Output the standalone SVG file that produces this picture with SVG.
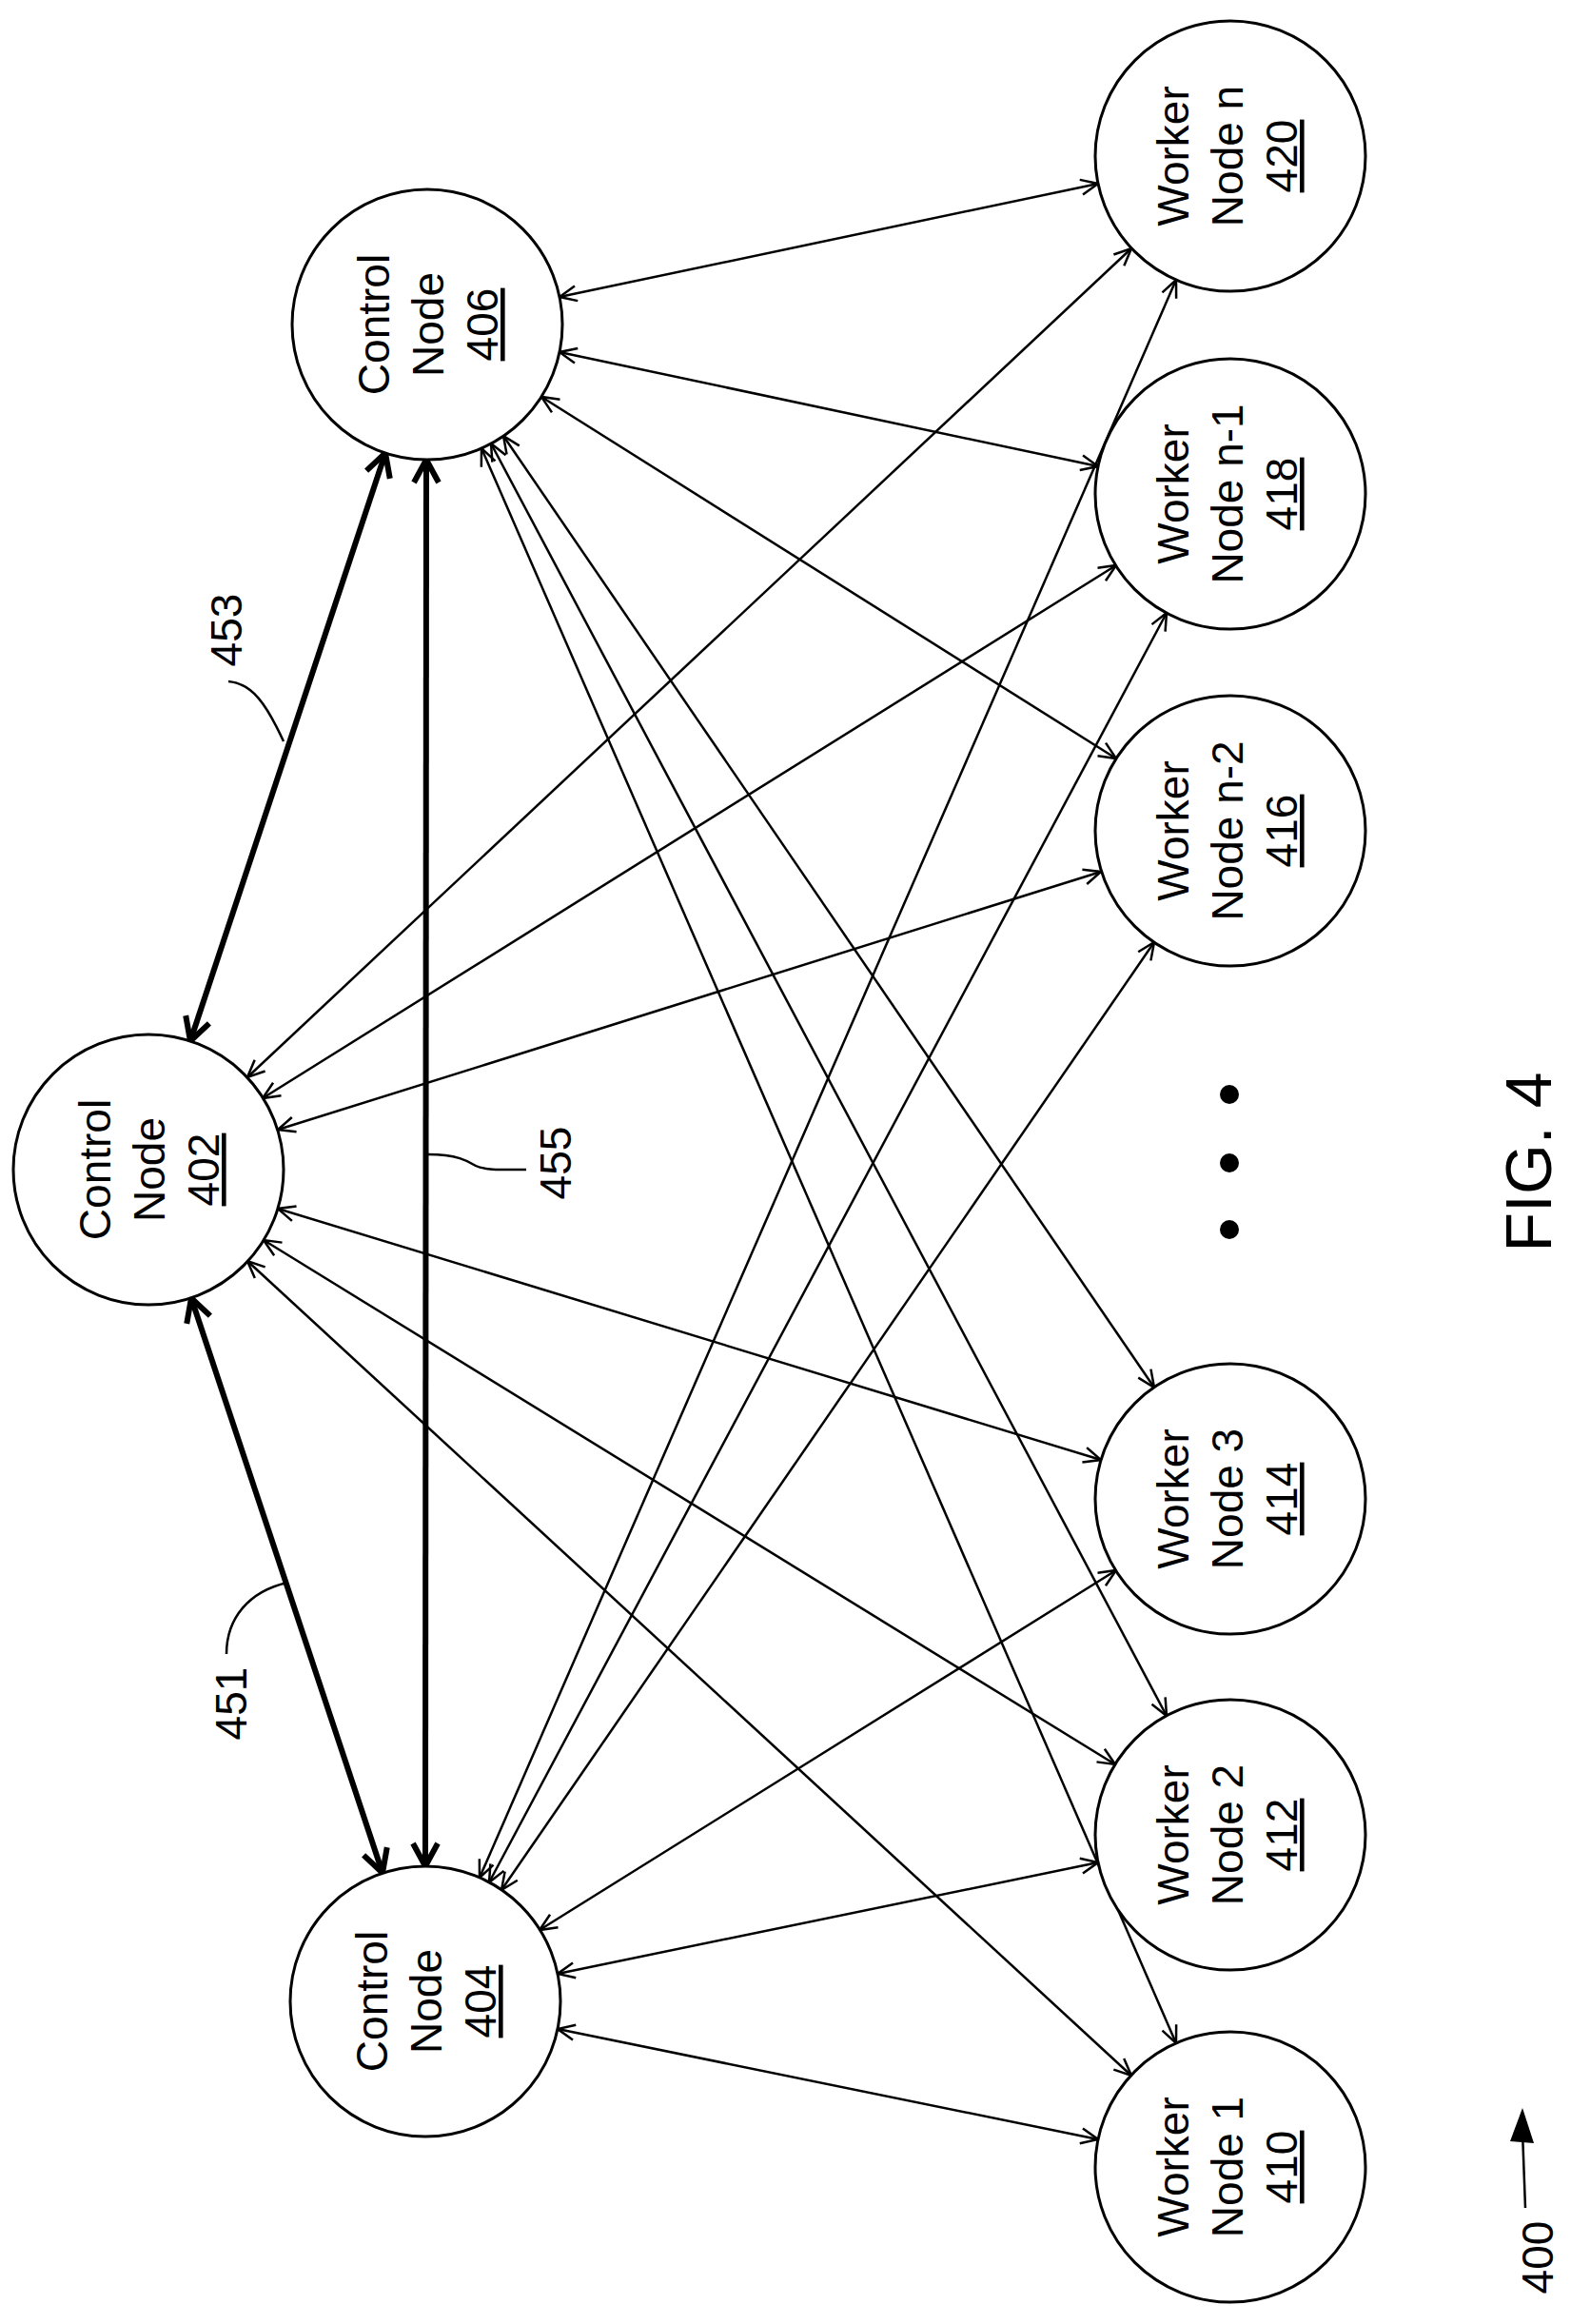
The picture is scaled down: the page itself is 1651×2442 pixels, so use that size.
<svg xmlns="http://www.w3.org/2000/svg" width="1651" height="2442" viewBox="0 0 1651 2442">
<style>
.n{fill:#fff;stroke:#000;stroke-width:3}
.t{font-family:"Liberation Sans",Arial,sans-serif;font-size:46px;text-anchor:middle;fill:#000}
.e{stroke:#000;stroke-width:2.5;fill:none;marker-start:url(#a);marker-end:url(#a)}
.b{stroke:#000;stroke-width:6;fill:none;marker-start:url(#b);marker-end:url(#b)}
.l{stroke:#000;stroke-width:2.5;fill:none}
</style>
<defs>
<marker id="a" markerUnits="userSpaceOnUse" orient="auto-start-reverse" refX="0" refY="0" markerWidth="40" markerHeight="40" overflow="visible"><path d="M-18,-8 L0,0 L-18,8" fill="none" stroke="#000" stroke-width="2.5"/></marker>
<marker id="b" markerUnits="userSpaceOnUse" orient="auto-start-reverse" refX="0" refY="0" markerWidth="40" markerHeight="40" overflow="visible"><path d="M-24,-13 L0,0 L-24,13" fill="none" stroke="#000" stroke-width="6"/></marker>
</defs>
<g id="connectors">
<line class="e" x1="588" y1="312" x2="1154" y2="193"/>
<line class="e" x1="588" y1="370" x2="1154" y2="490"/>
<line class="e" x1="569" y1="417" x2="1173" y2="797"/>
<line class="e" x1="529" y1="458" x2="1213" y2="1458"/>
<line class="e" x1="516" y1="466" x2="1226" y2="1803"/>
<line class="e" x1="506" y1="471" x2="1236" y2="2147"/>
<line class="e" x1="260" y1="1132" x2="1189" y2="261"/>
<line class="e" x1="276" y1="1154" x2="1173" y2="594"/>
<line class="e" x1="292" y1="1187" x2="1157" y2="916"/>
<line class="e" x1="292" y1="1270" x2="1157" y2="1534"/>
<line class="e" x1="277" y1="1303" x2="1172" y2="1854"/>
<line class="e" x1="260" y1="1325" x2="1189" y2="2181"/>
<line class="e" x1="504" y1="1973" x2="1236" y2="294"/>
<line class="e" x1="514" y1="1978" x2="1226" y2="644"/>
<line class="e" x1="527" y1="1986" x2="1213" y2="990"/>
<line class="e" x1="567" y1="2028" x2="1173" y2="1650"/>
<line class="e" x1="586" y1="2074" x2="1154" y2="1957"/>
<line class="e" x1="586" y1="2132" x2="1154" y2="2248"/>
<line class="b" x1="200" y1="1094" x2="405" y2="476"/>
<line class="b" x1="201" y1="1364" x2="402" y2="1968"/>
<line class="b" x1="448" y1="483" x2="447" y2="1961"/>
</g>
<g id="n406"><circle class="n" cx="449" cy="341" r="142"/><g transform="translate(449,341) rotate(-90)" class="t"><text x="0" y="-40">Control</text><text x="0" y="17">Node</text><text x="0" y="74" text-decoration="underline">406</text></g></g>
<g id="n402"><circle class="n" cx="156" cy="1229" r="142"/><g transform="translate(156,1229) rotate(-90)" class="t"><text x="0" y="-40">Control</text><text x="0" y="17">Node</text><text x="0" y="74" text-decoration="underline">402</text></g></g>
<g id="n404"><circle class="n" cx="447" cy="2103" r="142"/><g transform="translate(447,2103) rotate(-90)" class="t"><text x="0" y="-40">Control</text><text x="0" y="17">Node</text><text x="0" y="74" text-decoration="underline">404</text></g></g>
<g id="n420"><circle class="n" cx="1293" cy="164" r="142"/><g transform="translate(1289,164) rotate(-90)" class="t"><text x="0" y="-40">Worker</text><text x="0" y="17">Node n</text><text x="0" y="74" text-decoration="underline">420</text></g></g>
<g id="n418"><circle class="n" cx="1293" cy="519" r="142"/><g transform="translate(1289,519) rotate(-90)" class="t"><text x="0" y="-40">Worker</text><text x="0" y="17">Node n-1</text><text x="0" y="74" text-decoration="underline">418</text></g></g>
<g id="n416"><circle class="n" cx="1293" cy="873" r="142"/><g transform="translate(1289,873) rotate(-90)" class="t"><text x="0" y="-40">Worker</text><text x="0" y="17">Node n-2</text><text x="0" y="74" text-decoration="underline">416</text></g></g>
<g id="n414"><circle class="n" cx="1293" cy="1575" r="142"/><g transform="translate(1289,1575) rotate(-90)" class="t"><text x="0" y="-40">Worker</text><text x="0" y="17">Node 3</text><text x="0" y="74" text-decoration="underline">414</text></g></g>
<g id="n412"><circle class="n" cx="1293" cy="1928" r="142"/><g transform="translate(1289,1928) rotate(-90)" class="t"><text x="0" y="-40">Worker</text><text x="0" y="17">Node 2</text><text x="0" y="74" text-decoration="underline">412</text></g></g>
<g id="n410"><circle class="n" cx="1293" cy="2277" r="142"/><g transform="translate(1289,2277) rotate(-90)" class="t"><text x="0" y="-40">Worker</text><text x="0" y="17">Node 1</text><text x="0" y="74" text-decoration="underline">410</text></g></g>
<g id="labels">
<circle cx="1292" cy="1150" r="10"/><circle cx="1292" cy="1222" r="10"/><circle cx="1292" cy="1292" r="10"/>
<text class="t" transform="translate(600,1222) rotate(-90)">455</text>
<path class="l" d="M450,1213 C480,1213 492,1220 500,1225 C510,1230 530,1229 553,1229"/>
<text class="t" transform="translate(254,662) rotate(-90)">453</text>
<path class="l" d="M240,716 C265,718 280,740 298,779"/>
<text class="t" transform="translate(259,1790) rotate(-90)">451</text>
<path class="l" d="M238,1738 C238,1700 262,1672 302,1663"/>
<text class="t" transform="translate(1632,2372) rotate(-90)">400</text>
<path class="l" d="M1603,2320 L1600,2240"/>
<path d="M1587,2250 L1600,2215 L1612,2252 Z" fill="#000"/>
<text class="t" style="font-size:68px" transform="translate(1630,1221) rotate(-90)">FIG. 4</text>
</g>
</svg>
